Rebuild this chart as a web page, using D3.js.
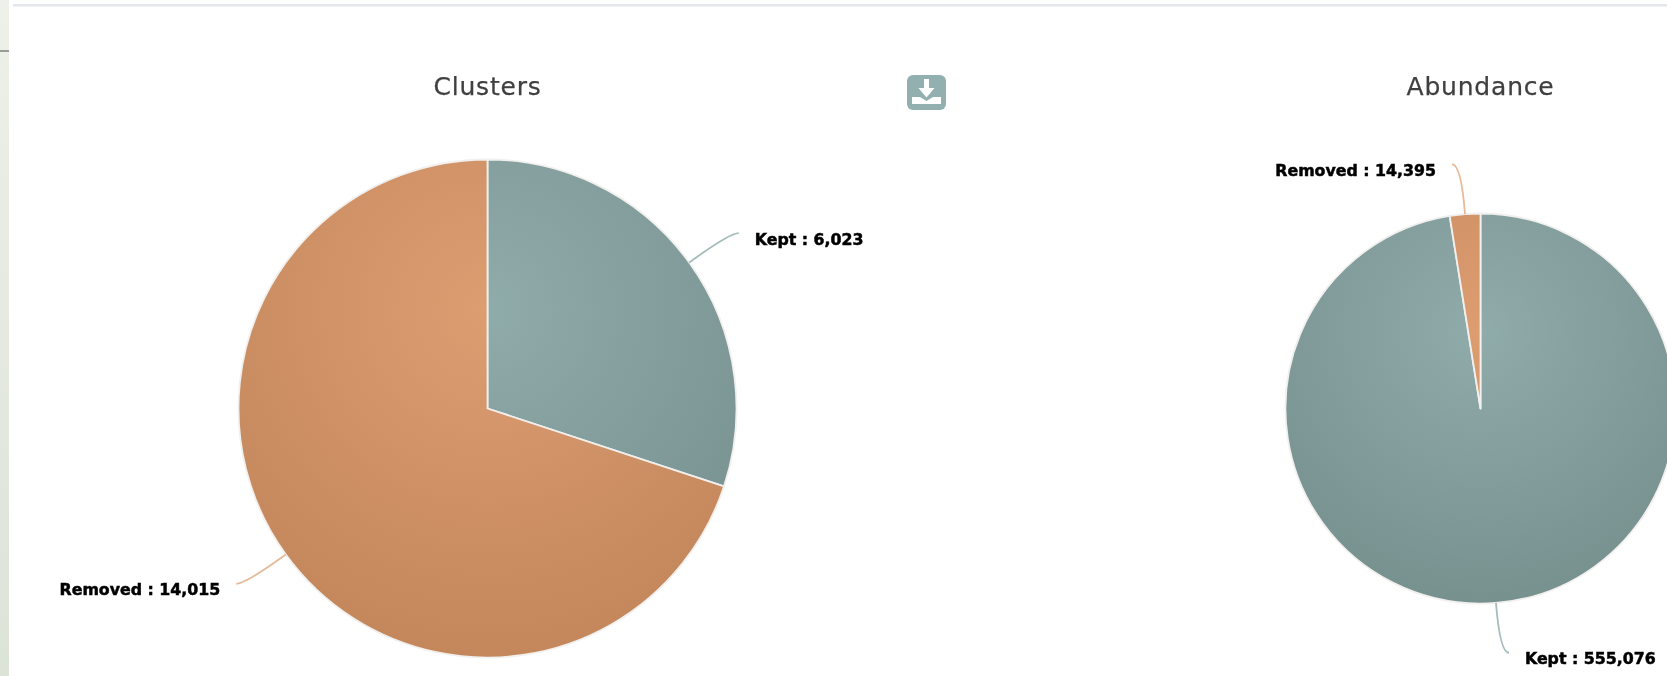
<!DOCTYPE html>
<html><head><meta charset="utf-8">
<style>html,body{margin:0;padding:0;background:#fff;overflow:hidden}svg{display:block;filter:blur(0.45px)}</style>
<script src="https://cdnjs.cloudflare.com/ajax/libs/d3/7.8.5/d3.min.js"></script>
</head><body><script>
const chartTitles = ["Clusters", "Abundance"];
const sliceNames = ["Kept", "Removed"];
const clusterValues = [6023, 14015];
const abundanceValues = [555076, 14395];

const W = 1667, H = 676;
const colors = {Kept:["#8fabaa","#77918f"], Removed:["#dc9d71","#c3875b"]};
const connector = {Kept:"#a5bcbb", Removed:"#e6b998"};
const svg = d3.select("body").append("svg").attr("width",W).attr("height",H);
const defs = svg.append("defs");

// page furniture
const band = defs.append("linearGradient").attr("id","band").attr("x1",0).attr("y1",0).attr("x2",0).attr("y2",1);
band.append("stop").attr("offset",0).attr("stop-color","#eef0ea");
band.append("stop").attr("offset",1).attr("stop-color","#dce3d7");
svg.append("rect").attr("x",0).attr("y",0).attr("width",9).attr("height",H).attr("fill","url(#band)");
svg.append("rect").attr("x",0).attr("y",50).attr("width",9).attr("height",2).attr("fill","#999b97");
svg.append("rect").attr("x",13).attr("y",4).attr("width",W-13).attr("height",2.5).attr("fill","#e6e7ec");

const fmt = d3.format(",");
const pie = d3.pie().sort(null);

function drawPie(idx, values, cx, cy, r){
  const g = svg.append("g").attr("transform",`translate(${cx},${cy})`);
  const arc = d3.arc().innerRadius(0).outerRadius(r);
  const arcs = pie(values);
  sliceNames.forEach(n=>{
    const grad = defs.append("radialGradient").attr("id",`g${idx}${n}`)
      .attr("gradientUnits","userSpaceOnUse")
      .attr("cx",0).attr("cy",-0.4*r).attr("r",1.4*r);
    grad.append("stop").attr("offset",0).attr("stop-color",colors[n][0]);
    grad.append("stop").attr("offset",1).attr("stop-color",colors[n][1]);
  });
  g.selectAll("path.slice").data(arcs).join("path").attr("class","slice")
    .attr("d",arc)
    .attr("fill",(d,i)=>`url(#g${idx}${sliceNames[i]})`)
    .attr("stroke","#f1f0ee").attr("stroke-width",1.8).attr("stroke-linejoin","round");
  const polar = (rad,a)=>[rad*Math.sin(a),-rad*Math.cos(a)];
  arcs.forEach((d,i)=>{
    const a = (d.startAngle+d.endAngle)/2;
    const side = Math.sin(a)>=0?1:-1;
    const p0 = polar(r,a), c = polar(r+50,a);
    const p1 = [c[0]+side*9,c[1]];
    g.append("path").attr("d",`M${p0}Q${c} ${p1}`).attr("fill","none")
      .attr("stroke",connector[sliceNames[i]]).attr("stroke-width",1.8);
    g.append("text").attr("x",p1[0]+side*16).attr("y",p1[1]+11.5)
      .attr("text-anchor",side>0?"start":"end")
      .attr("font-family","'DejaVu Sans'").attr("font-weight","bold").attr("font-size",15.8)
      .attr("fill","#000").attr("stroke","#000").attr("stroke-width",0.5)
      .text(`${sliceNames[i]} : ${fmt(values[i])}`);
  });
}
const centers = [[487.5,408.5,249],[1480.5,408.5,195]];
drawPie(0,clusterValues,...centers[0]);
drawPie(1,abundanceValues,...centers[1]);

svg.selectAll("text.title").data(chartTitles).join("text").attr("class","title")
  .attr("x",(d,i)=>centers[i][0]).attr("y",95).attr("text-anchor","middle")
  .attr("font-family","'DejaVu Sans'").attr("font-size",25).attr("letter-spacing",0.8)
  .attr("fill","#3f3f3f").attr("stroke","#3f3f3f").attr("stroke-width",0.25).text(d=>d);

// download icon
const ic = svg.append("g").attr("transform","translate(907,75)");
ic.append("rect").attr("width",39).attr("height",35).attr("rx",6).attr("fill","#93b0b0");
ic.append("path").attr("d","M17 4h5v9h5.5l-8 9.5-8-9.5H17z").attr("fill","#fff");
ic.append("path").attr("d","M5 22h8l6.5 4 6.5-4h8v7H5z").attr("fill","#fff");
</script></body></html>
